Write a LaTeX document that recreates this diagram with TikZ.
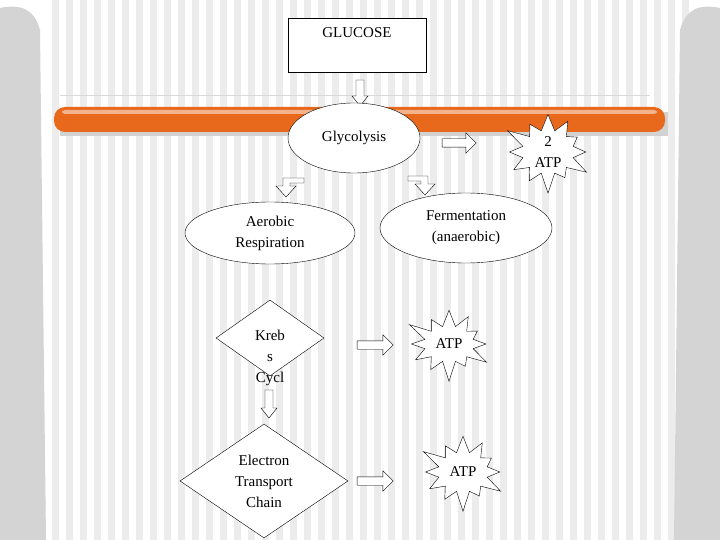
\documentclass[tikz,border=0pt]{standalone}
\usepackage{fontspec}
\setmainfont{Liberation Serif}
\usetikzlibrary{shapes.geometric,shapes.symbols,shapes.arrows}
\definecolor{bar}{RGB}{232,104,28}
\definecolor{stripe}{RGB}{236,236,236}
\definecolor{panel}{RGB}{212,212,212}
\begin{document}
\begin{tikzpicture}[x=1pt,y=-1pt,
  txt/.style={font=\fontsize{15}{21}\selectfont,align=center},
  ell/.style={ellipse,draw,fill=white,txt,inner sep=0pt},
  dia/.style={diamond,draw,fill=white,txt,inner sep=0pt},
  star/.style={starburst,draw,fill=white,txt,starburst points=12,starburst point height=22pt,inner sep=0pt},
  harrow/.style={single arrow,draw,fill=white,minimum height=36pt,minimum width=20pt,single arrow head extend=6pt,inner xsep=0pt,inner ysep=4pt},
  hollow/.style={draw,fill=white}]
\useasboundingbox (0,0) rectangle (720,540);
\fill[white] (0,0) rectangle (720,540);
\foreach \i in {0,...,45} {\fill[stripe] (52+14*\i,0) rectangle (59+14*\i,540);}
\fill[panel] (0,540) -- (0,8) .. controls (20,4) and (34,8) .. (40,30) -- (46,540) -- cycle;
\fill[panel] (720,540) -- (720,8) .. controls (700,4) and (686,8) .. (680,30) -- (674,540) -- cycle;
\fill[gray!35] (60,112) rectangle (668,136);
\fill[bar,rounded corners=11] (54,107) rectangle (665,132);
\fill[white,opacity=0.5,rounded corners=3] (62,110) rectangle (657,114);
\draw[gray!30] (60,95) -- (650,95);
\node[draw,fill=white,minimum width=138pt,minimum height=54pt,anchor=north] (glu) at (357,18) {};
\node[txt] (glut) at (357,33) {GLUCOSE};
\draw[hollow] (356,80) -- (364,80) -- (364,96) -- (368,96) -- (360,106) -- (352,96) -- (356,96) -- cycle;
\node[ell,minimum width=132pt,minimum height=70pt] (gly) at (354,138) {Glycolysis};
\node[harrow,minimum height=34pt] (a2) at (457,143) {};
\node[star,minimum width=96pt,minimum height=86pt] (atp0) at (548,152) {2\\ATP};
\draw[hollow] (304,178) -- (283,178) -- (283,186) -- (276,186) -- (286,197) -- (296,186) -- (290,186) -- (290,183) -- (304,183) -- cycle;
\draw[hollow] (408,176) -- (428,176) -- (428,184) -- (435,184) -- (425,195) -- (415,184) -- (421,184) -- (421,181) -- (408,181) -- cycle;
\node[ell,minimum width=170pt,minimum height=62pt] (aer) at (270,233) {Aerobic\\Respiration};
\node[ell,minimum width=172pt,minimum height=70pt] (fer) at (466,228) {Fermentation\\(anaerobic)};
\node[dia,minimum width=108pt,minimum height=76pt] (kreb) at (270,338) {};
\node[txt] (krebt) at (270,358) {Kreb\\s\\Cycl};
\draw[hollow] (265,390) -- (273,390) -- (273,408) -- (277,408) -- (269,418) -- (261,408) -- (265,408) -- cycle;
\node[dia,minimum width=168pt,minimum height=114pt] (etc) at (264,481) {Electron\\Transport\\Chain};
\node[harrow] (a4) at (373,345) {};
\node[harrow] (a5) at (373,481) {};
\node[star,minimum width=94pt,minimum height=80pt] (atp1) at (449,344) {ATP};
\node[star,minimum width=94pt,minimum height=84pt] (atp2) at (463,472) {ATP};
\end{tikzpicture}
\end{document}
